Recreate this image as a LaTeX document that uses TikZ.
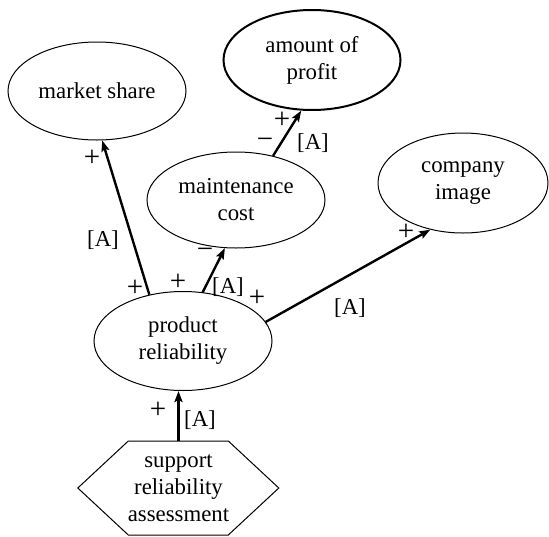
\documentclass[tikz,border=0pt]{standalone}
\usepackage{fontspec}
\setmainfont{Liberation Serif}
\usetikzlibrary{arrows.meta,shapes.geometric}
\begin{document}
\begin{tikzpicture}[x=1pt,y=-1pt,
  every node/.style={font=\fontsize{22.8}{27}\selectfont},
  ell/.style={ellipse,draw,line width=1pt,inner sep=0pt,align=center},
  arr/.style={line width=2.4pt,-{Stealth[length=11pt,width=8pt,inset=2pt]}},
  lbl/.style={inner sep=0pt},
  sgn/.style={inner sep=0pt,font=\fontsize{29}{30}\selectfont}]
\useasboundingbox (0,0) rectangle (549,536);
\node[ell,minimum width=178,minimum height=98] (ms) at (97,91) {market share};
\node[ell,line width=2pt,minimum width=177,minimum height=100] (ap) at (312,60) {amount of\\profit};
\node[ell,minimum width=178,minimum height=96] (mc) at (236,200) {maintenance\\cost};
\node[ell,minimum width=170,minimum height=100] (ci) at (463,183) {company\\image};
\node[ell,minimum width=178,minimum height=99] (pr) at (183,341) {product\\reliability};
\node[rectangle,inner sep=0pt,minimum width=201,minimum height=94,align=center] (hex) at (178.5,488) {support\\reliability\\assessment};
\draw[line width=1pt] (hex.west) -- ++(50.5,-47) -- ++(100,0) -- ++(50.5,47) -- ++(-50.5,47) -- ++(-100,0) -- cycle;
\draw[arr] (pr.126.9) -- (ms.276.8);
\draw[arr] (pr.68.8) -- (mc.257.1);
\draw[arr] (mc.50) -- (ap.258.7);
\draw[arr] (pr.13.7) -- (ci.235.4);
\draw[arr] (hex.north) -- (hex.north |- pr.south);
\node[sgn] (p1) at (92,158) {+};
\node[lbl] (a1) at (103,240) {[A]};
\node[sgn] (p2) at (135,288) {+};
\node[sgn] (p3) at (178,282) {+};
\node[lbl] (a2) at (228,287) {[A]};
\node[sgn] (p4) at (257,298) {+};
\node[sgn] (m1) at (205,253) {−};
\node[sgn] (m2) at (265,143) {−};
\node[sgn] (p5) at (282,120) {+};
\node[lbl] (a3) at (313,143) {[A]};
\node[sgn] (p6) at (406,232) {+};
\node[lbl] (a4) at (350,308) {[A]};
\node[sgn] (p7) at (158,410) {+};
\node[lbl] (a5) at (200,420) {[A]};
\end{tikzpicture}
\end{document}
